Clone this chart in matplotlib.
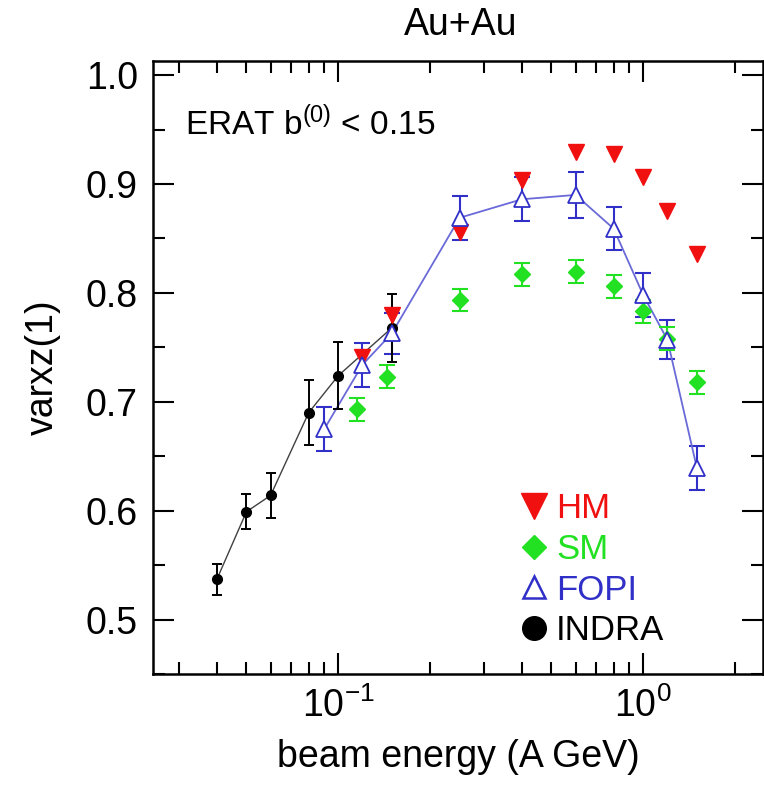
import matplotlib
matplotlib.use("Agg")
import matplotlib.pyplot as plt
from matplotlib.lines import Line2D
from matplotlib.ticker import MultipleLocator, LogLocator

plt.rcParams['font.family'] = ['Liberation Sans', 'DejaVu Sans']
plt.rcParams['mathtext.fontset'] = 'custom'
plt.rcParams['mathtext.rm'] = 'Liberation Sans'
plt.rcParams['mathtext.it'] = 'Liberation Sans:italic'
plt.rcParams['mathtext.default'] = 'regular'

# INDRA (black dots)
indra_e = [0.04, 0.05, 0.06, 0.08, 0.10, 0.15]
indra_v = [0.537, 0.599, 0.614, 0.690, 0.724, 0.768]
indra_err = [0.014, 0.016, 0.021, 0.030, 0.031, 0.031]

# FOPI (open blue triangles, joined)
fopi_e = [0.09, 0.12, 0.15, 0.25, 0.4, 0.6, 0.8, 1.0, 1.2, 1.5]
fopi_v = [0.675, 0.734, 0.763, 0.869, 0.886, 0.890, 0.859, 0.798, 0.757, 0.639]
fopi_err = [0.020, 0.020, 0.019, 0.020, 0.020, 0.021, 0.020, 0.020, 0.018, 0.020]

# HM (red down triangles)
hm_e = [0.12, 0.15, 0.25, 0.4, 0.6, 0.8, 1.0, 1.2, 1.5]
hm_v = [0.741, 0.780, 0.856, 0.904, 0.929, 0.928, 0.906, 0.875, 0.836]

# SM (green diamonds)
sm_e = [0.115, 0.145, 0.25, 0.4, 0.6, 0.8, 1.0, 1.2, 1.5]
sm_v = [0.693, 0.723, 0.7935, 0.817, 0.8195, 0.806, 0.783, 0.758, 0.718]
sm_err = [0.0105] * 9

red = '#f01010'
green = '#22e022'
blue = '#3030c8'

fig = plt.figure(figsize=(7.64, 7.85), dpi=100)
ax = fig.add_axes([0.2003, 0.1414, 0.7984, 0.7809])

ax.plot(indra_e, indra_v, color='#404040', lw=1.0, zorder=3)
ax.errorbar(indra_e, indra_v, yerr=indra_err, fmt='o', color='black', ms=7,
            elinewidth=1.4, capsize=3.5, capthick=1.4, zorder=3)
ax.errorbar(fopi_e, fopi_v, yerr=fopi_err, color='#6a6ad8', lw=1.3, marker='none',
            ecolor=blue, elinewidth=1.5, capsize=6, capthick=1.5, zorder=2)
ax.errorbar(sm_e, sm_v, yerr=sm_err, fmt='D', color=green, ms=8, mec=green,
            elinewidth=1.5, capsize=6, capthick=1.5, zorder=4)
ax.plot(hm_e, hm_v, 'v', color=red, ms=11, zorder=5)
ax.plot(fopi_e, fopi_v, '^', ms=12, mfc='white', mec=blue, mew=1.3, ls='none', zorder=6)

ax.set_xscale('log')
ax.set_xlim(0.0247, 2.47)
ax.set_ylim(0.45, 1.013)
ax.yaxis.set_major_locator(MultipleLocator(0.1))
ax.yaxis.set_minor_locator(MultipleLocator(0.05))
ax.xaxis.set_major_locator(LogLocator(base=10))
ax.xaxis.set_minor_locator(LogLocator(base=10, subs=range(2, 10)))
ax.yaxis.set_major_formatter(plt.FormatStrFormatter('%.1f'))

ax.tick_params(which='both', direction='in', top=True, right=True, labelsize=27, width=1.5)
ax.tick_params(which='major', length=15)
ax.tick_params(which='minor', length=8.5)
ax.tick_params(axis='y', pad=11)
ax.tick_params(axis='x', pad=10)
for s in ax.spines.values():
    s.set_linewidth(1.8)

ax.set_xlabel('beam energy (A GeV)', fontsize=27, labelpad=10)
ax.set_ylabel('varxz(1)', fontsize=27, labelpad=18)
fig.text(0.603, 0.955, 'Au+Au', fontsize=27, ha='center', va='baseline')
ax.text(0.052, 0.879, 'ERAT b$^{(0)}$ < 0.15', fontsize=24, transform=ax.transAxes,
        va='baseline')

handles = [
    Line2D([], [], ls='none', marker='v', color=red, ms=19),
    Line2D([], [], ls='none', marker='D', color=green, ms=12.5),
    Line2D([], [], ls='none', marker='^', mfc='white', mec=blue, mew=1.8, ms=16),
    Line2D([], [], ls='none', marker='o', color='black', ms=17),
]
ax.legend(handles, ['HM', 'SM', 'FOPI', 'INDRA'], loc='center left',
          bbox_to_anchor=(0.601, 0.170), frameon=False, fontsize=25,
          labelcolor=[red, green, blue, 'black'], borderpad=0, borderaxespad=0,
          handlelength=0.85, handletextpad=0.2, labelspacing=0.22)

fig.savefig('out.png', dpi=100)
